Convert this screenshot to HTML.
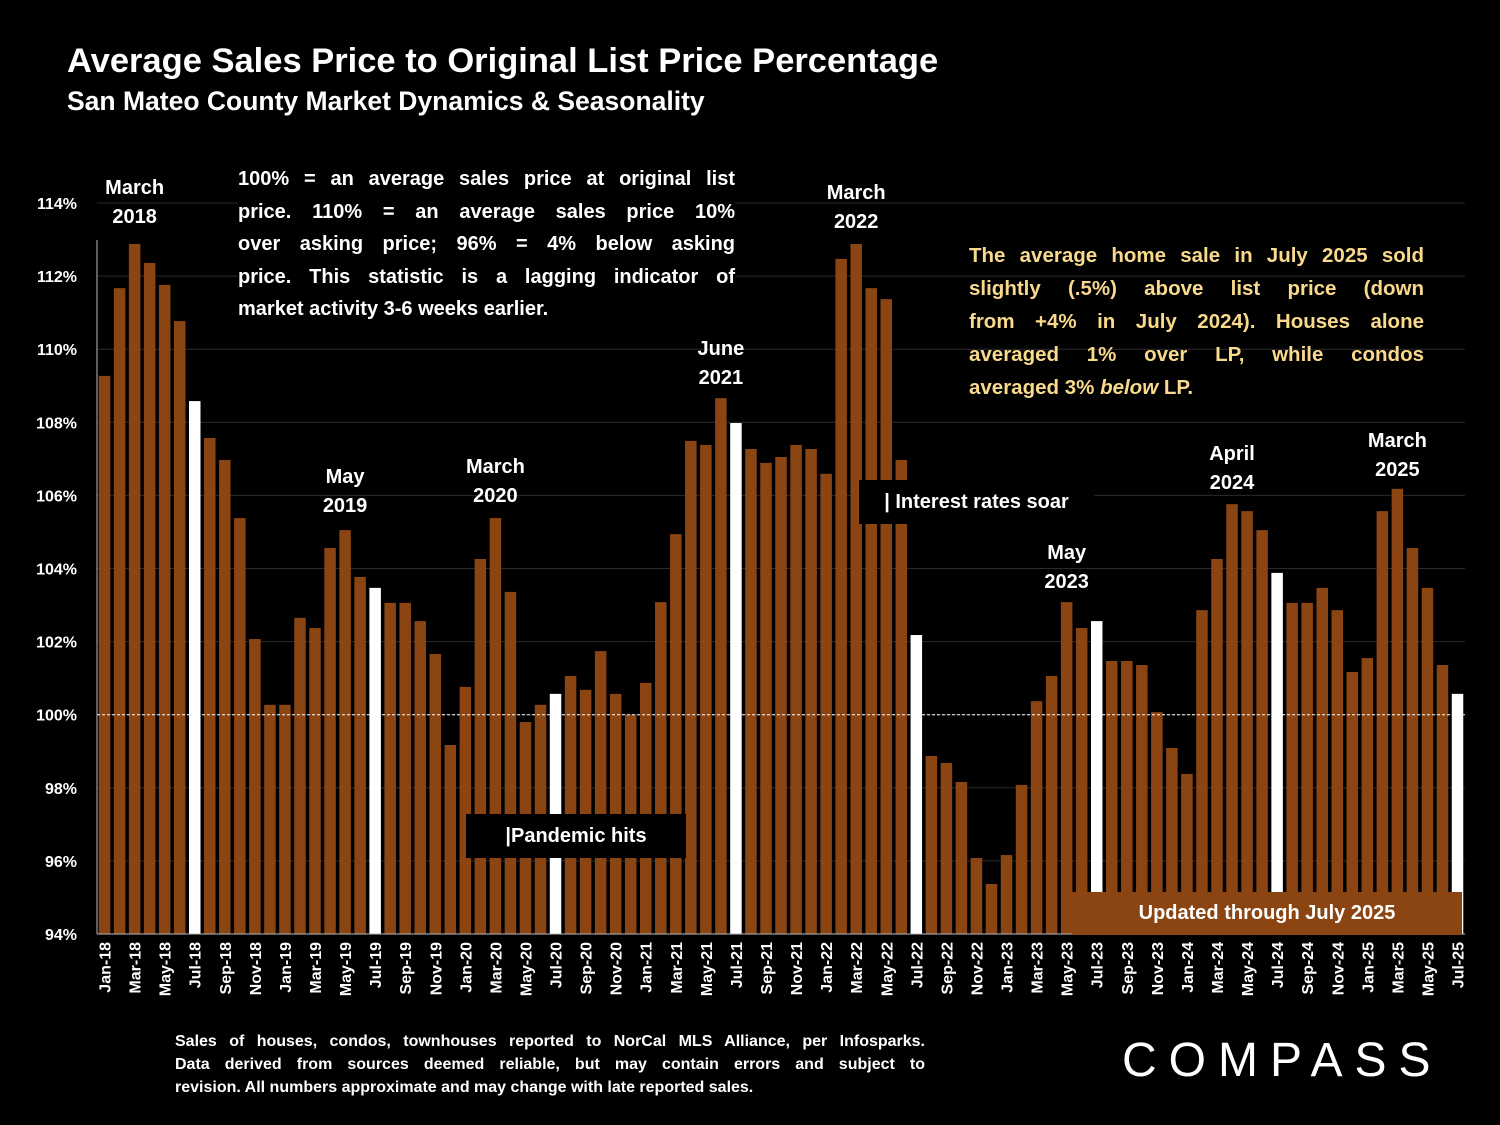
<!DOCTYPE html>
<html><head><meta charset="utf-8">
<style>
body{margin:0;background:#000;}
#c{position:relative;width:1500px;height:1125px;background:#000;font-family:"Liberation Sans",Arial,sans-serif;color:#fff;overflow:hidden}
.t{position:absolute;font-weight:bold}
.j div{text-align:justify;text-align-last:justify;white-space:nowrap}
.j div.l{text-align-last:left}
</style></head><body>
<div id="c">
<div class="t" style="left:67px;top:42px;font-size:34.5px">Average Sales Price to Original List Price Percentage</div>
<div class="t" style="left:67px;top:86px;font-size:26.5px">San Mateo County Market Dynamics &amp; Seasonality</div>
<svg id="s" width="1500" height="1125" style="position:absolute;left:0;top:0"></svg>
<div class="t j" style="left:238px;top:163px;width:497px;font-size:20px;line-height:32.5px;background:#000">
<div>100% = an average sales price at original list</div>
<div>price. 110% = an average sales price 10%</div>
<div>over asking price; 96% = 4% below asking</div>
<div>price. This statistic is a lagging indicator of</div>
<div class="l">market activity 3-6 weeks earlier.</div></div>
<div class="t j" style="left:969px;top:239px;width:455px;font-size:20.5px;line-height:33px;color:#f9d98c">
<div>The average home sale in July 2025 sold</div>
<div>slightly (.5%) above list price (down</div>
<div>from +4% in July 2024). Houses alone</div>
<div>averaged 1% over LP, while condos</div>
<div class="l">averaged 3% <i>below</i> LP.</div></div>
<div class="t" style="left:466px;top:814px;width:220px;height:44px;background:#000;font-size:20px;line-height:44px;text-align:center">|Pandemic hits</div>
<div class="t" style="left:859px;top:480px;width:235px;height:44px;background:#000;font-size:20px;line-height:44px;text-align:center">| Interest rates soar</div>
<div class="t" style="left:1072px;top:892px;width:390px;height:43px;background:#8b4513;font-size:20px;line-height:43px;text-align:center">Updated through July 2025</div>
<div class="t j" style="left:175px;top:1030px;width:750px;font-size:16px;line-height:23px">
<div>Sales of houses, condos, townhouses reported to NorCal MLS Alliance, per Infosparks.</div>
<div>Data derived from sources deemed reliable, but may contain errors and subject to</div>
<div class="l">revision. All numbers approximate and may change with late reported sales.</div></div>
<div style="position:absolute;left:1122px;top:1033px;font-size:48px;letter-spacing:12px;font-family:'Liberation Sans',sans-serif">COMPASS</div>
</div>
<script>
const months=["Jan","Feb","Mar","Apr","May","Jun","Jul","Aug","Sep","Oct","Nov","Dec"];
const values=[109.27,111.67,112.88,112.36,111.76,110.77,108.58,107.57,106.97,105.38,102.07,100.27,
100.27,102.65,102.37,104.56,105.05,103.77,103.47,103.06,103.06,102.56,101.66,99.17,
100.76,104.26,105.38,103.36,99.8,100.27,100.57,101.06,100.68,101.74,100.57,100.0,
100.87,103.08,104.94,107.49,107.38,108.66,107.98,107.27,106.89,107.05,107.38,107.27,
106.59,112.47,112.88,111.67,111.37,106.97,102.18,98.87,98.68,98.16,96.08,95.37,
96.16,98.08,100.37,101.06,103.08,102.37,102.56,101.47,101.47,101.36,100.07,99.09,
98.38,102.86,104.26,105.76,105.57,105.05,103.88,103.06,103.06,103.47,102.86,101.17,
101.55,105.57,106.18,104.56,103.47,101.36,100.57];
const yTicks=[94,96,98,100,102,104,106,108,110,112,114];
const peaks=[["March","2018",2,185],["May","2019",16,474],["March","2020",26,464],["June","2021",41,346],["March","2022",50,190],["May","2023",64,550],["April","2024",75,451],["March","2025",86,438]];
const NS="http://www.w3.org/2000/svg",s=document.getElementById('s');
const x0=97,step=(1465-97)/91,bw=11.5;
const y=v=>934-(v-94)*36.55;
const xi=i=>x0+i*step+1.8;
function el(t,a,txt){const e=document.createElementNS(NS,t);for(const k in a)e.setAttribute(k,a[k]);if(txt!=null)e.textContent=txt;s.appendChild(e);return e;}
yTicks.forEach(v=>{
 if(v>94){const g=el('line',{x1:x0,x2:1465,y1:y(v),y2:y(v),stroke:'#2a2a2a','stroke-width':1});
 
 }
 const t=el('text',{x:77,y:y(v)+6,'text-anchor':'end','font-size':16,'font-weight':'bold',fill:'#fff'},v+'%');
 
 
});
values.forEach((v,i)=>{
 const m=i%12,yr=18+Math.floor(i/12);
 const r=el('rect',{x:xi(i),y:y(v),width:bw,height:934-y(v),fill:m==6?'#fff':'#8b4513'});
 
 
 if(m%2==0){const cx=xi(i)+bw/2+6;
  const t=el('text',{x:cx,y:942,'text-anchor':'end','font-size':16,'font-weight':'bold',fill:'#fff',transform:`rotate(-90 ${cx} 942)`},months[m]+'-'+yr);
  
  }
});
const d=el('line',{x1:x0,x2:1465,y1:y(100),y2:y(100),stroke:'#fff','stroke-width':1,'stroke-dasharray':'3,2'});


const ax=el('line',{x1:x0,x2:x0,y1:240,y2:934,stroke:'#bbb','stroke-width':1});


const bx=el('line',{x1:x0,x2:1465,y1:934,y2:934,stroke:'#bbb','stroke-width':1});


peaks.forEach(p=>{const cx=xi(p[2])+bw/2;
 const t=el('text',{x:cx,y:p[3]+9,'text-anchor':'middle','font-size':20,'font-weight':'bold',fill:'#fff'},p[0]);
 
 
 const t2=el('text',{x:cx,y:p[3]+38,'text-anchor':'middle','font-size':20,'font-weight':'bold',fill:'#fff'},p[1]);
 
 
});
</script>
</body></html>
